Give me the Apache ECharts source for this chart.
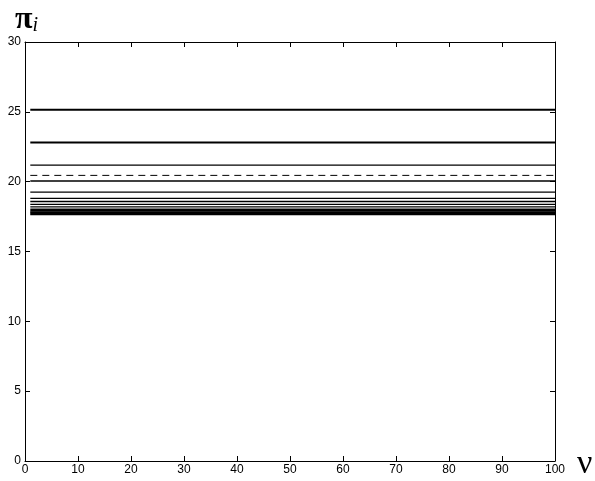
<!DOCTYPE html>
<html>
<head>
<meta charset="utf-8">
<script src="https://cdn.jsdelivr.net/npm/echarts@6/dist/echarts.min.js"></script>
<style>
  html, body { margin: 0; padding: 0; background: #fff; }
  #chart { width: 595px; height: 481px; }
</style>
</head>
<body>
<div id="chart"></div>
<script>
// Range of ν over which each level is drawn
var nuRange = [1, 100];
// Equilibrium levels π_i (solid curves)
var solidLevels = [25.15, 22.8, 21.18, 20.05, 19.25, 18.8, 18.58, 18.38, 18.2, 18.02, 17.92, 17.82, 17.73, 17.65];
// Line width for each solid curve
var solidWidths = [2, 2, 1.3, 1.6, 1.3, 1.3, 1.3, 1.3, 1.3, 1.6, 1.6, 1.6, 1.6, 1.6];
// Reference level (dashed)
var dashedLevel = 20.45;
// Axis ticks
var xTicks = [0, 10, 20, 30, 40, 50, 60, 70, 80, 90, 100];
var yTicks = [0, 5, 10, 15, 20, 25, 30];

var chart = echarts.init(document.getElementById('chart'), null, { renderer: 'canvas' });

function levelSeries(v, width, dashed) {
  return {
    type: 'line',
    data: nuRange.map(function (x) { return [x, v]; }),
    symbol: 'none',
    silent: true,
    animation: false,
    lineStyle: { color: '#000', width: width, type: dashed ? [7, 5] : 'solid' }
  };
}

var series = solidLevels.map(function (v, i) { return levelSeries(v, solidWidths[i], false); });
series.push(levelSeries(dashedLevel, 1, true));

var labelFont = { color: '#000', fontFamily: 'Liberation Sans, Arial, sans-serif', fontSize: 12 };
var lineStyle = { color: '#000', width: 1 };

chart.setOption({
  backgroundColor: '#fff',
  animation: false,
  grid: { left: 25, right: 40, top: 42, bottom: 20, containLabel: false },
  xAxis: [{
    type: 'value', min: xTicks[0], max: xTicks[xTicks.length - 1], interval: 10,
    position: 'bottom',
    axisLine: { show: true, onZero: false, lineStyle: lineStyle },
    axisTick: { show: true, inside: true, length: 5, lineStyle: lineStyle },
    axisLabel: Object.assign({ margin: 3 }, labelFont),
    splitLine: { show: false }
  }, {
    type: 'value', min: xTicks[0], max: xTicks[xTicks.length - 1], interval: 10,
    position: 'top',
    axisLine: { show: true, onZero: false, lineStyle: lineStyle },
    axisTick: { show: true, inside: true, length: 5, lineStyle: lineStyle },
    axisLabel: { show: false },
    splitLine: { show: false }
  }],
  yAxis: [{
    type: 'value', min: yTicks[0], max: yTicks[yTicks.length - 1], interval: 5,
    position: 'left',
    axisLine: { show: true, onZero: false, lineStyle: lineStyle },
    axisTick: { show: true, inside: true, length: 5, lineStyle: lineStyle },
    axisLabel: Object.assign({ margin: 4 }, labelFont),
    splitLine: { show: false }
  }, {
    type: 'value', min: yTicks[0], max: yTicks[yTicks.length - 1], interval: 5,
    position: 'right',
    axisLine: { show: true, onZero: false, lineStyle: lineStyle },
    axisTick: { show: true, inside: true, length: 5, lineStyle: lineStyle },
    axisLabel: { show: false },
    splitLine: { show: false }
  }],
  graphic: [{
    type: 'text', left: 15, top: 4,
    style: {
      text: '{p|π}{s|i}',
      rich: {
        p: { fontSize: 32, fontWeight: 'bold', fontFamily: 'Liberation Serif, serif', fill: '#000' },
        s: { fontSize: 20, fontStyle: 'italic', fontFamily: 'Liberation Serif, serif', fill: '#000', padding: [12, 0, 0, 0] }
      }
    }
  }, {
    type: 'text', left: 577, top: 447,
    style: { text: 'ν', fontSize: 34, fontFamily: 'Liberation Serif, serif', fill: '#000' }
  }],
  series: series
});
</script>
</body>
</html>
